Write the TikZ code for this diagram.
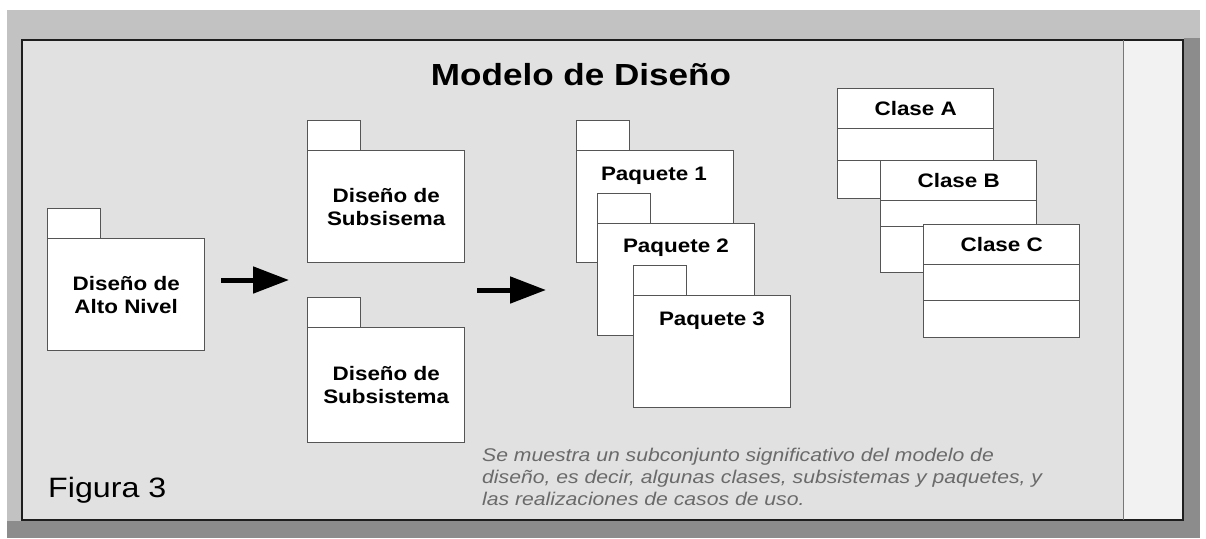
\documentclass[tikz,border=0pt]{standalone}
\usepackage{fontspec}
\setmainfont{Liberation Sans}[FakeStretch=1.15]
\usetikzlibrary{arrows.meta}
\definecolor{outergrey}{HTML}{C2C2C2}
\definecolor{shadowgrey}{HTML}{8C8C8C}
\definecolor{panelgrey}{HTML}{E1E1E1}
\definecolor{stripgrey}{HTML}{F2F2F2}
\definecolor{boxline}{HTML}{555555}
\definecolor{framedark}{HTML}{1E1E1E}
\definecolor{captiongrey}{HTML}{6A6A6A}
\newcommand\myboxfont{\fontsize{19.5}{23}\selectfont\bfseries}
\begin{document}
\begin{tikzpicture}[x=1pt,y=-1pt,
  pkgbody/.style={draw=boxline, fill=white, line width=1.4pt, minimum width=157pt, minimum height=112pt, anchor=north west, inner sep=0pt, align=center, font=\myboxfont},
  pkgtab/.style={draw=boxline, fill=white, line width=1.4pt, minimum width=53pt, minimum height=30pt, anchor=north west, inner sep=0pt},
  pkgtxt/.style={font=\myboxfont, inner sep=0pt},
  classcell/.style={draw=boxline, fill=white, line width=1.4pt, minimum width=156pt, anchor=north west, inner sep=0pt, font=\myboxfont},
  bigarrow/.style={line width=5pt, draw=black, -{Triangle[length=36pt,width=26pt]}},
  titletxt/.style={font=\fontsize{30.5}{36}\selectfont\bfseries, inner sep=0pt},
  figtxt/.style={font=\fontsize{28}{32}\selectfont, inner sep=0pt},
  captxt/.style={font=\fontsize{18.4}{22}\selectfont\itshape, text=captiongrey, align=left, inner sep=0pt, anchor=west}
]
\useasboundingbox (0,0) rectangle (1206,538);
% backgrounds
\fill[white] (0,0) rectangle (1206,538);
\fill[outergrey] (7,10) rectangle (1200,538);
\fill[shadowgrey] (7,521) rectangle (1200,538);
\fill[shadowgrey] (1184,38) rectangle (1200,538);
\fill[panelgrey] (22,40) rectangle (1183,520);
\fill[stripgrey] (1123,40) rectangle (1183,520);
\draw[framedark, line width=2.2pt] (22,40) rectangle (1183,520);
\draw[boxline!80, line width=1pt] (1123,40) -- (1123,520);

% title
\node[titletxt] (title) at (581,75) {Modelo de Diseño};

% high level package
\node[pkgtab] (altotab) at (47,208) {};
\node[pkgbody] (alto) at (47,238) {Diseño de\\Alto Nivel};

% subsystem packages
\node[pkgtab] (sub1tab) at (307,120) {};
\node[pkgbody] (sub1) at (307,150) {Diseño de\\Subsisema};
\node[pkgtab] (sub2tab) at (307,297) {};
\node[pkgbody, minimum height=115pt] (sub2) at (307,327) {Diseño de\\Subsistema};

% arrows
\coordinate (a1s) at (221,280);
\coordinate (a1e) at (289,280);
\draw[bigarrow] (a1s) -- (a1e);
\coordinate (a2s) at (477,290);
\coordinate (a2e) at (546,290);
\draw[bigarrow] (a2s) -- (a2e);

% packages 1-3
\node[pkgtab] (p1tab) at (576,120) {};
\node[pkgbody] (p1) at (576,150) {};
\node[pkgtxt] (p1t) at (654,176) {Paquete 1};
\node[pkgtab] (p2tab) at (597,193) {};
\node[pkgbody] (p2) at (597,223) {};
\node[pkgtxt] (p2t) at (676,248) {Paquete 2};
\node[pkgtab] (p3tab) at (633,265) {};
\node[pkgbody] (p3) at (633,295) {};
\node[pkgtxt] (p3t) at (712,321) {Paquete 3};

% classes
\node[classcell, minimum height=40pt] (ca1) at (837,88) {Clase A};
\node[classcell, minimum height=32pt] (ca2) at (837,128) {};
\node[classcell, minimum height=38pt] (ca3) at (837,160) {};
\node[classcell, minimum height=40pt] (cb1) at (880,160) {Clase B};
\node[classcell, minimum height=26pt] (cb2) at (880,200) {};
\node[classcell, minimum height=46pt] (cb3) at (880,226) {};
\node[classcell, minimum height=40pt] (cc1) at (923,224) {Clase C};
\node[classcell, minimum height=36pt] (cc2) at (923,264) {};
\node[classcell, minimum height=37pt] (cc3) at (923,300) {};

% caption
\node[captxt] (cap) at (482,477) {Se muestra un subconjunto significativo del modelo de\\diseño, es decir, algunas clases, subsistemas y paquetes, y\\las realizaciones de casos de uso.};

% figure label
\node[figtxt, anchor=west] (fig) at (48,490) {Figura 3};
\end{tikzpicture}
\end{document}
